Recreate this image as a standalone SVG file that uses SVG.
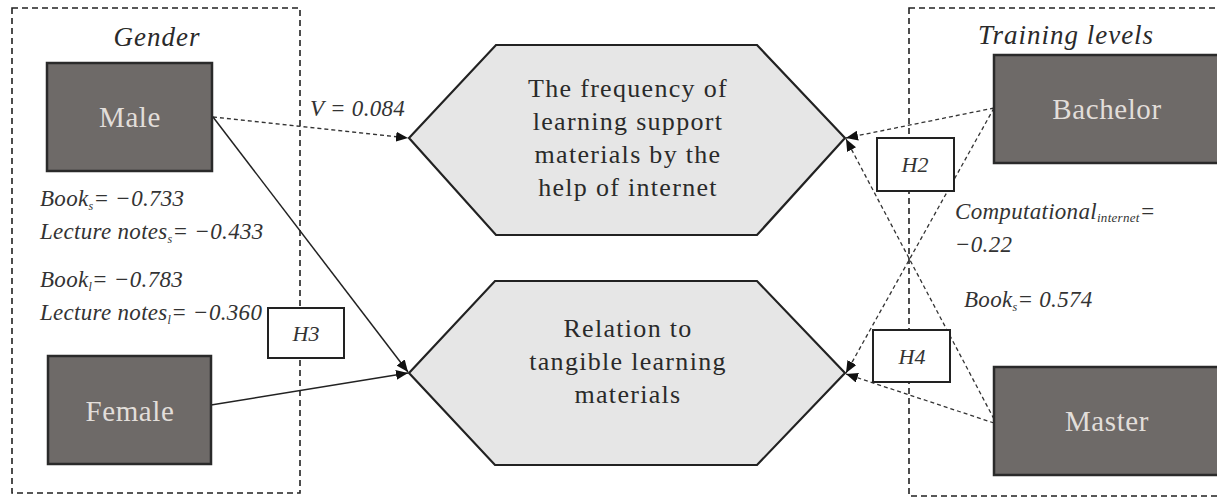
<svg xmlns="http://www.w3.org/2000/svg" width="1217" height="498" viewBox="0 0 1217 498">
<defs>
<marker id="arr" viewBox="0 0 12 10" refX="12" refY="5" markerWidth="12" markerHeight="10" markerUnits="userSpaceOnUse" orient="auto">
<path d="M0,0 L12,5 L0,10 Z" fill="#111"/>
</marker>
</defs>
<style>
.grp{fill:none;stroke:#222;stroke-width:1.6;stroke-dasharray:6 4}
.dark{fill:#6e6a68;stroke:#2a2a2a;stroke-width:2.5}
.dark-t{font-family:"Liberation Serif",serif;font-size:29px;letter-spacing:0.6px;fill:#e2deda;text-anchor:middle}
.hex{fill:#e6e6e6;stroke:#222;stroke-width:2.2}
.hex-t{font-family:"Liberation Serif",serif;font-size:26px;letter-spacing:1.3px;fill:#2a2a2a;text-anchor:middle}
.lab{font-family:"Liberation Serif",serif;font-style:italic;font-size:23px;letter-spacing:0.3px;fill:#333}
.ttl{font-family:"Liberation Serif",serif;font-style:italic;font-size:27px;letter-spacing:1px;fill:#2a2a2a;text-anchor:middle}
.hbox{fill:#fff;stroke:#222;stroke-width:2}
.hbox-t{font-family:"Liberation Serif",serif;font-style:italic;font-size:22px;fill:#333;text-anchor:middle}
.cd{fill:none;stroke:#333;stroke-width:1.3;stroke-dasharray:4 3}
.cs{fill:none;stroke:#222;stroke-width:1.5}
</style>

<g id="group-gender">
<rect class="grp" x="12" y="8" width="288" height="485"/>
<text class="ttl" x="157" y="46">Gender</text>
</g>
<g id="group-training">
<rect class="grp" x="909" y="8" width="330" height="488"/>
<text class="ttl" x="1066" y="44">Training levels</text>
</g>

<g id="connectors">
<line class="cd" x1="213" y1="117" x2="408" y2="138" marker-end="url(#arr)"/>
<line class="cs" x1="213" y1="117" x2="408" y2="372" marker-end="url(#arr)"/>
<line class="cs" x1="211" y1="405" x2="408" y2="373" marker-end="url(#arr)"/>
<line class="cd" x1="994" y1="108" x2="846" y2="138" marker-end="url(#arr)"/>
<line class="cd" x1="994" y1="108" x2="846" y2="373" marker-end="url(#arr)"/>
<line class="cd" x1="994" y1="419" x2="846" y2="139" marker-end="url(#arr)"/>
<line class="cd" x1="994" y1="423" x2="846" y2="374" marker-end="url(#arr)"/>
</g>

<g id="node-male">
<rect class="dark" x="47" y="63" width="165" height="108"/>
<text class="dark-t" x="130" y="127">Male</text>
</g>
<g id="node-female">
<rect class="dark" x="48" y="356" width="163" height="108"/>
<text class="dark-t" x="130" y="421">Female</text>
</g>
<g id="node-bachelor">
<rect class="dark" x="994" y="55" width="240" height="108"/>
<text class="dark-t" x="1107" y="119">Bachelor</text>
</g>
<g id="node-master">
<rect class="dark" x="994" y="367" width="240" height="108"/>
<text class="dark-t" x="1107" y="431">Master</text>
</g>

<g id="node-frequency">
<polygon class="hex" points="496,45 757,45 845,138 757,235 496,235 409,138"/>
<text class="hex-t" x="628" y="97">The frequency of</text>
<text class="hex-t" x="628" y="130">learning support</text>
<text class="hex-t" x="628" y="163">materials by the</text>
<text class="hex-t" x="628" y="196">help of internet</text>
</g>
<g id="node-tangible">
<polygon class="hex" points="495,281 757,281 845,373 757,465 495,465 409,373"/>
<text class="hex-t" x="628" y="337">Relation to</text>
<text class="hex-t" x="628" y="370">tangible learning</text>
<text class="hex-t" x="628" y="403">materials</text>
</g>

<g id="node-h3">
<rect class="hbox" x="268" y="308" width="76" height="50"/>
<text class="hbox-t" x="306" y="341">H3</text>
</g>
<g id="node-h2">
<rect class="hbox" x="877" y="138" width="77" height="53"/>
<text class="hbox-t" x="915" y="172">H2</text>
</g>
<g id="node-h4">
<rect class="hbox" x="873" y="330" width="77" height="52"/>
<text class="hbox-t" x="912" y="364">H4</text>
</g>

<g id="labels">
<text class="lab" x="310" y="116">V = 0.084</text>
<text class="lab" x="40" y="206">Book<tspan font-size="12" dy="4">s</tspan><tspan dy="-4">= −0.733</tspan></text>
<text class="lab" x="40" y="239">Lecture notes<tspan font-size="12" dy="4">s</tspan><tspan dy="-4">= −0.433</tspan></text>
<text class="lab" x="40" y="287">Book<tspan font-size="12" dy="4">l</tspan><tspan dy="-4">= −0.783</tspan></text>
<text class="lab" x="40" y="320">Lecture notes<tspan font-size="12" dy="4">l</tspan><tspan dy="-4">= −0.360</tspan></text>
<text class="lab" x="955" y="219">Computational<tspan font-size="13" dy="3">internet</tspan><tspan dy="-3">=</tspan></text>
<text class="lab" x="955" y="252">−0.22</text>
<text class="lab" x="964" y="307">Book<tspan font-size="12" dy="4">s</tspan><tspan dy="-4">= 0.574</tspan></text>
</g>
</svg>
